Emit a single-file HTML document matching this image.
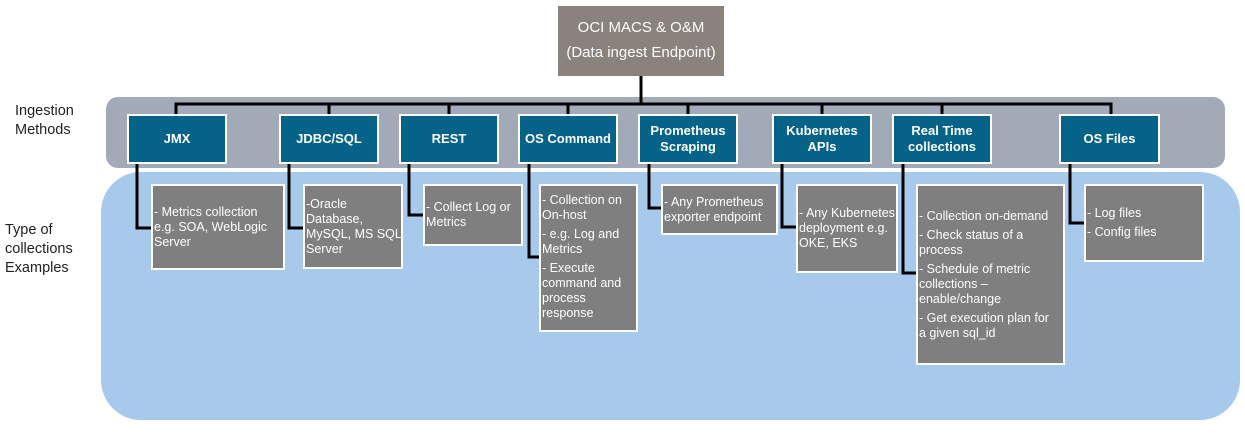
<!DOCTYPE html>
<html><head><meta charset="utf-8"><style>
*{margin:0;padding:0;box-sizing:border-box}
body{width:1245px;height:446px;background:#fff;position:relative;overflow:hidden;font-family:"Liberation Sans",sans-serif}
.a{position:absolute}
.blue{position:absolute;background:#05638a;border:2px solid #fff;color:#fff;font-size:13px;font-weight:bold;display:flex;align-items:center;justify-content:center;text-align:center;line-height:16px;top:114px;height:50px}
.gray{position:absolute;background:#7f7f7f;border:2px solid #fff;color:#fff;font-size:12.5px;line-height:15px;padding:0 1px;display:flex;flex-direction:column;justify-content:center;top:184px;white-space:nowrap}
.gray p{margin:2px 0}
.lbl{position:absolute;font-size:14.5px;line-height:19px;color:#222}
</style></head><body>
<div class="a" style="left:106px;top:97px;width:1119px;height:71px;background:#a2aab8;border-radius:12px"></div>
<div class="a" style="left:101px;top:172px;width:1139px;height:248px;background:#a7c9eb;border-radius:40px"></div>
<div class="a" style="left:558px;top:6px;width:166px;height:70px;background:#8a837c;color:#fff;font-size:15px;line-height:25px;text-align:center;padding-top:9px">OCI MACS &amp; O&amp;M<br>(Data ingest Endpoint)</div>
<div class="lbl" style="left:15px;top:102px">Ingestion<br>Methods</div>
<div class="lbl" style="left:5px;top:221px">Type of<br>collections<br>Examples</div>
<svg class="a" style="left:0;top:0" width="1245" height="446">
<g stroke="#000" stroke-width="3" fill="none">
<path d="M641 76V104M176 115V104H1111V115M329 104V115M449 104V115M568 104V115M688 104V115M822 104V115M942 104V115"/>
<path d="M137 164V228H153M289 164V228H305M409 164V215H425M529 164V257H541M649 164V208H663M782 164V227H798M903 164V273H918M1070 164V223H1086"/>
</g></svg>
<div class="blue" style="left:127px;width:100px">JMX</div>
<div class="blue" style="left:279px;width:100px">JDBC/SQL</div>
<div class="blue" style="left:399px;width:100px">REST</div>
<div class="blue" style="left:518px;width:100px">OS Command</div>
<div class="blue" style="left:638px;width:100px">Prometheus<br>Scraping</div>
<div class="blue" style="left:772px;width:100px">Kubernetes<br>APIs</div>
<div class="blue" style="left:892px;width:100px">Real Time<br>collections</div>
<div class="blue" style="left:1059px;width:101px">OS Files</div>
<div class="gray" style="left:151px;width:134px;height:86px"><p>- Metrics collection<br>e.g. SOA, WebLogic<br>Server</p></div>
<div class="gray" style="left:303px;width:100px;height:85px"><p>-Oracle<br>Database,<br>MySQL, MS SQL<br>Server</p></div>
<div class="gray" style="left:423px;width:100px;height:62px"><p>- Collect Log or<br>Metrics</p></div>
<div class="gray" style="left:539px;width:99px;height:148px;justify-content:flex-start;padding-top:5px"><p>- Collection on<br>On-host</p><p>- e.g. Log and<br>Metrics</p><p>- Execute<br>command and<br>process<br>response</p></div>
<div class="gray" style="left:661px;width:117px;height:51px"><p>- Any Prometheus<br>exporter endpoint</p></div>
<div class="gray" style="left:796px;width:102px;height:89px"><p>- Any Kubernetes<br>deployment e.g.<br>OKE, EKS</p></div>
<div class="gray" style="left:916px;width:149px;height:181px"><p>- Collection on-demand</p><p>- Check status of a<br>process</p><p>- Schedule of metric<br>collections –<br>enable/change</p><p>- Get execution plan for<br>a given sql_id</p></div>
<div class="gray" style="left:1084px;width:120px;height:78px"><p>- Log files</p><p>- Config files</p></div>
</body></html>
